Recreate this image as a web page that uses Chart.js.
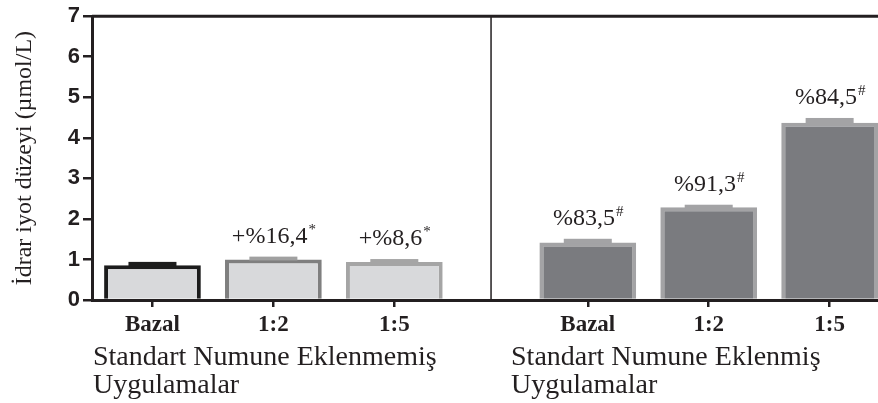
<!DOCTYPE html>
<html>
<head>
<meta charset="utf-8">
<script src="https://cdn.jsdelivr.net/npm/chart.js@4.4.0/dist/chart.umd.min.js"></script>
<style>
  body { margin: 0; background: #fff; }
</style>
</head>
<body>
<canvas id="barChart" width="878" height="403"></canvas>
<script>
const categories = ["Bazal", "1:2", "1:5", "Bazal", "1:2", "1:5"];
const groups = [
    ["Standart Numune Eklenmemiş", "Uygulamalar"],
    ["Standart Numune Eklenmiş", "Uygulamalar"]
];
const values = [0.86, 1.00, 0.94, 1.42, 2.29, 4.37];
const errors = [0.08, 0.07, 0.07, 0.09, 0.06, 0.12];
const changes = ["", "+%16,4", "+%8,6", "%83,5", "%91,3", "%84,5"];
const marks = ["", "*", "*", "#", "#", "#"];
const yTicks = [0, 1, 2, 3, 4, 5, 6, 7];

const ink = "#231f20";
const fills = ["#d8d9db", "#d8d9db", "#d8d9db", "#7a7b7f", "#7a7b7f", "#7a7b7f"];
const borders = ["#1c1c1c", "#7f7f7f", "#a5a5a5", "#a3a3a5", "#a3a3a5", "#a3a3a5"];
const capColors = ["#1c1c1c", "#a0a0a0", "#a5a5a5", "#a3a3a5", "#a3a3a5", "#a3a3a5"];

// second group sits a bit further right than a plain category step
const groupGap = 0.6;
const xPos = categories.map((c, i) => i + 1 + (i >= 3 ? groupGap : 0));

const extras = {
    id: "extras",
    beforeDatasetsDraw(chart) {
        const { ctx, chartArea, scales } = chart;
        const mid = (scales.x.getPixelForValue(xPos[2]) + scales.x.getPixelForValue(xPos[3])) / 2;
        ctx.save();
        ctx.strokeStyle = ink;
        ctx.lineWidth = 1.5;
        ctx.beginPath();
        ctx.moveTo(mid, chartArea.top);
        ctx.lineTo(mid, chartArea.bottom);
        ctx.stroke();
        ctx.lineWidth = 3;
        ctx.beginPath();
        ctx.moveTo(chartArea.left, chartArea.top);
        ctx.lineTo(chartArea.right, chartArea.top);
        ctx.stroke();
        ctx.restore();
    },
    afterDatasetsDraw(chart) {
        const { ctx, scales } = chart;
        const bars = chart.getDatasetMeta(0).data;
        ctx.save();
        bars.forEach((bar, i) => {
            const top = scales.y.getPixelForValue(values[i] + errors[i]);
            ctx.fillStyle = capColors[i];
            ctx.fillRect(bar.x - 24, top, 48, bar.y - top + 1);

            if (!changes[i]) return;
            ctx.fillStyle = ink;
            ctx.font = '24px "Liberation Serif"';
            const w1 = ctx.measureText(changes[i]).width;
            ctx.font = '15px "Liberation Serif"';
            const w2 = ctx.measureText(marks[i]).width;
            const start = bar.x - (w1 + w2) / 2;
            const base = top - 14;
            ctx.textAlign = "left";
            ctx.textBaseline = "alphabetic";
            ctx.font = '24px "Liberation Serif"';
            ctx.fillText(changes[i], start, base);
            ctx.font = '15px "Liberation Serif"';
            ctx.fillText(marks[i], start + w1 + 1, base - 9);
        });
        ctx.restore();
    },
    afterDraw(chart) {
        const { ctx, chartArea, scales } = chart;
        const mid = (scales.x.getPixelForValue(xPos[2]) + scales.x.getPixelForValue(xPos[3])) / 2;
        const starts = [chartArea.left + 1, mid + 20];
        ctx.save();
        ctx.fillStyle = ink;
        ctx.font = '28px "Liberation Serif"';
        ctx.textAlign = "left";
        ctx.textBaseline = "alphabetic";
        groups.forEach((lines, g) => {
            lines.forEach((line, k) => {
                ctx.fillText(line, starts[g], chartArea.bottom + 65 + k * 28);
            });
        });
        ctx.restore();
    }
};

new Chart(document.getElementById("barChart"), {
    type: "bar",
    data: {
        datasets: [{
            data: values.map((v, i) => ({ x: xPos[i], y: v })),
            backgroundColor: fills,
            borderColor: borders,
            borderWidth: 4,
            borderSkipped: "bottom",
            barPercentage: 0.8,
            categoryPercentage: 1.0
        }]
    },
    options: {
        responsive: false,
        animation: false,
        layout: { padding: { top: 15, left: 0, right: 0, bottom: 0 } },
        plugins: {
            legend: { display: false },
            tooltip: { enabled: false }
        },
        scales: {
            x: {
                type: "linear",
                offset: false,
                min: 0.5,
                max: 7.0,
                afterBuildTicks: scale => { scale.ticks = xPos.map(v => ({ value: v })); },
                afterFit: scale => { scale.height = 103; },
                ticks: {
                    autoSkip: false,
                    maxRotation: 0,
                    padding: 4,
                    color: ink,
                    font: { family: "Liberation Serif", size: 23, weight: "bold" },
                    callback: (v, i) => categories[i]
                },
                grid: { offset: false, drawOnChartArea: false, tickLength: 7, lineWidth: 2.5, color: ink },
                border: { display: true, width: 3, color: ink }
            },
            y: {
                min: 0,
                max: 7,
                afterBuildTicks: scale => { scale.ticks = yTicks.map(v => ({ value: v })); },
                afterFit: scale => { scale.width = 92; },
                ticks: {
                    padding: 3,
                    color: ink,
                    font: { family: "Liberation Sans", size: 22, weight: "bold" }
                },
                grid: { drawOnChartArea: false, tickLength: 9, lineWidth: 2.5, color: ink },
                border: { display: true, width: 3, color: ink },
                title: {
                    display: true,
                    text: "İdrar iyot düzeyi (µmol/L)",
                    color: ink,
                    font: { family: "Liberation Serif", size: 24 },
                    padding: { top: 10, bottom: 0 }
                }
            }
        }
    },
    plugins: [extras]
});
</script>
</body>
</html>
